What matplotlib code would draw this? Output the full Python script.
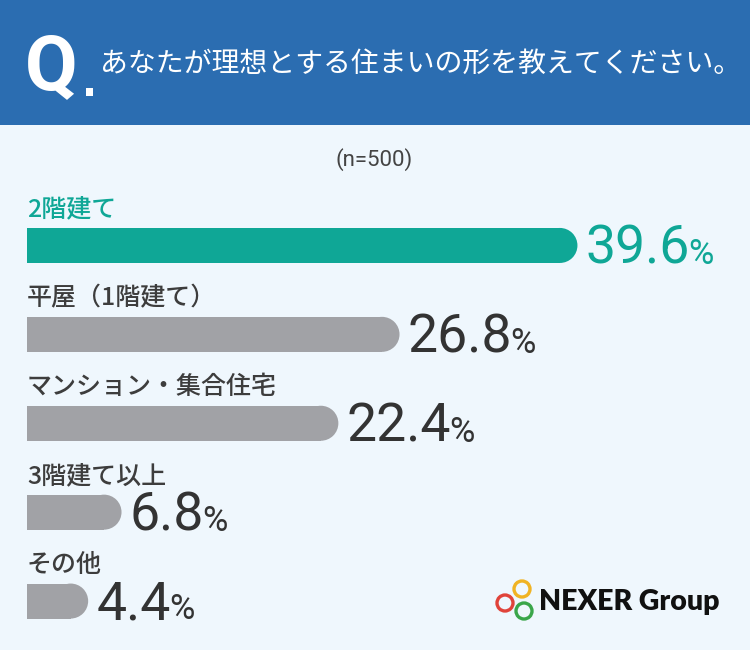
import matplotlib
matplotlib.use("Agg")
import matplotlib.pyplot as plt
from matplotlib.patches import Rectangle, Ellipse

plt.rcParams['font.family'] = ['Noto Sans CJK JP', 'DejaVu Sans']

# data
categories = ["2階建て", "平屋（1階建て）", "マンション・集合住宅", "3階建て以上", "その他"]
values = [39.6, 26.8, 22.4, 6.8, 4.4]
title = "あなたが理想とする住まいの形を教えてください。"
sample = "(n=500)"

HEADER = "#2b6db1"
BG = "#eff7fd"
TEAL = "#0fa796"
GREY = "#a1a2a6"
DARK = "#333333"
LABEL = "#3d3d3d"

W, H = 750, 650
fig = plt.figure(figsize=(7.5, 6.5), dpi=100)
fig.patch.set_facecolor(BG)


def fx(x):
    return x / W


def fy(y):
    return 1 - y / H


# header band
fig.patches.append(Rectangle((0, fy(125)), 1, 125 / H, transform=fig.transFigure,
                             facecolor=HEADER, edgecolor="none", zorder=0))
fig.text(fx(25), fy(89), "Q", color="white", fontsize=55, fontweight="bold",
         family=["Roboto", "DejaVu Sans"], va="baseline", ha="left")
fig.patches.append(Rectangle((fx(86), fy(96)), 7 / W, 8 / H, transform=fig.transFigure,
                             facecolor="white", edgecolor="none", zorder=2))
fig.text(fx(100), fy(64), title, color="white", fontsize=20.1, va="center", ha="left")

fig.text(fx(374), fy(160), sample, color="#444444", fontsize=16, ha="center", va="center",
         family=["Roboto", "DejaVu Sans"])

# bar axes: x in percent, y in category index
px_per_pct = 13.9
xmax = 50
top_px, step = 201, 88.9
ax = fig.add_axes([fx(27), fy(top_px + 5 * step), xmax * px_per_pct / W, 5 * step / H])
ax.set_xlim(0, xmax)
ax.set_ylim(4.5, -0.5)
ax.axis("off")

bar_h = 35 / step
rx = 17.5 / px_per_pct
for i, (cat, v) in enumerate(zip(categories, values)):
    col = TEAL if i == 0 else GREY
    tcol = TEAL if i == 0 else DARK
    ax.barh(i, v - rx, height=bar_h, left=0, color=col, edgecolor="none")
    ax.add_patch(Ellipse((v - rx, i), 2 * rx, bar_h, facecolor=col, edgecolor="none"))
    ax.text(0, i - 36 / step, cat, color=TEAL if i == 0 else LABEL, fontsize=18,
            fontweight="medium", ha="left", va="center")
    num = ax.text(v + 8 / px_per_pct, i + bar_h / 2 + 1 / step, f"{v:.1f}", color=tcol,
                  fontsize=38.5, family=["Roboto", "DejaVu Sans"], ha="left", va="baseline")
    ax.annotate("%", xy=(1, 0), xycoords=num, xytext=(-1, 8), textcoords="offset points",
                color=tcol, fontsize=25, family=["Roboto", "DejaVu Sans"],
                ha="left", va="baseline")

# logo
r = 8
for (cx, cy), c in zip([(522, 589), (505, 603), (524, 611)], ["#f0b323", "#e0433a", "#3aa64a"]):
    fig.patches.append(Ellipse((fx(cx), fy(cy)), 2 * r / W, 2 * r / H, transform=fig.transFigure,
                               facecolor="none", edgecolor=c, linewidth=2.4, zorder=3))
fig.text(fx(539), fy(602), "NEXER Group", color="#111111", fontsize=20.5,
         fontweight="heavy", family=["Lato", "DejaVu Sans"], ha="left", va="center")

fig.savefig("out.png", dpi=100, facecolor=BG)
